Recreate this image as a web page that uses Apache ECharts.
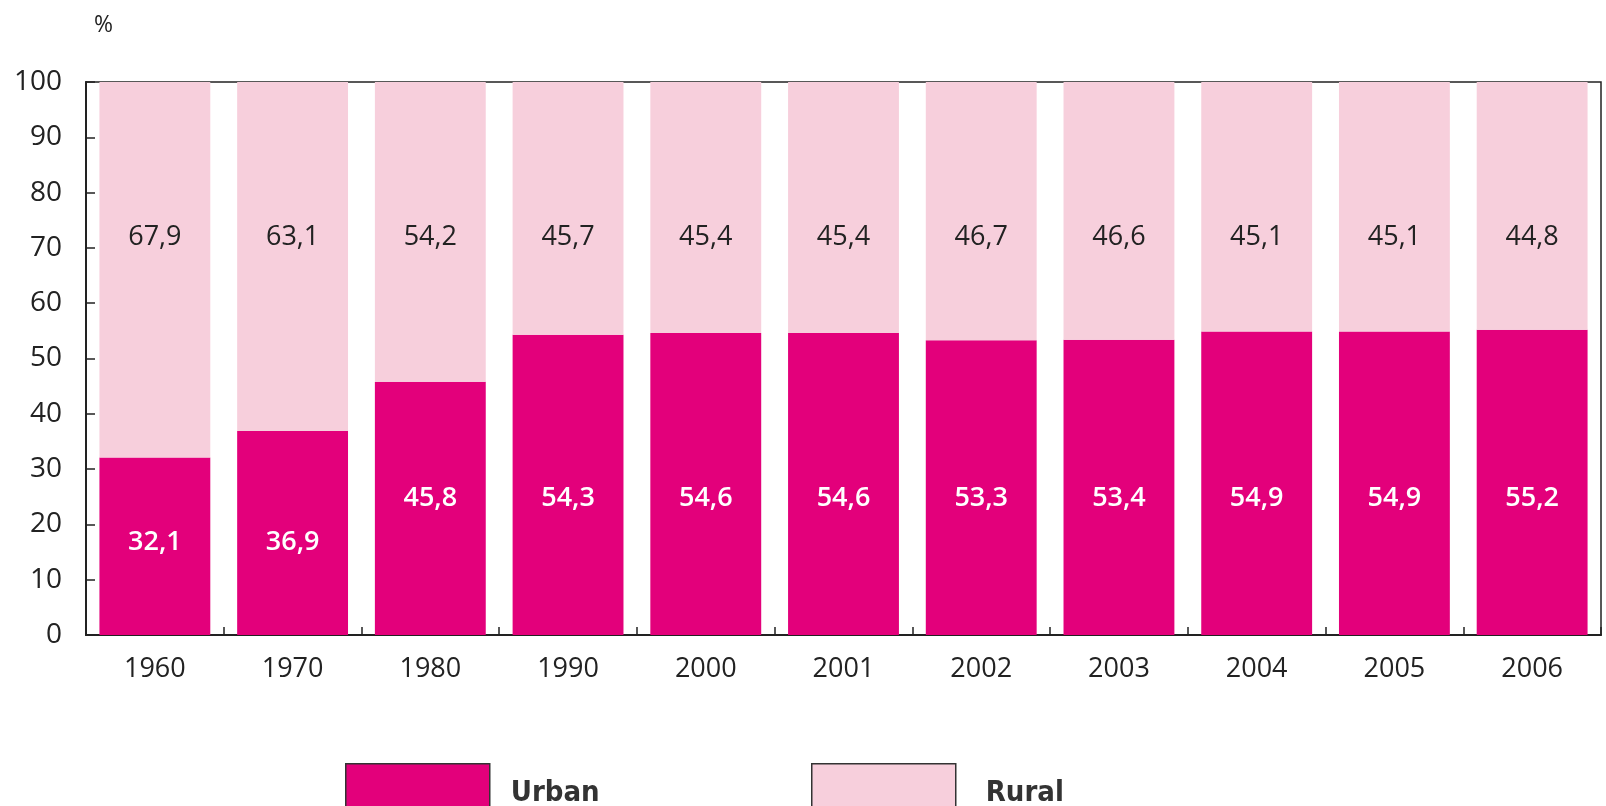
<!DOCTYPE html>
<html>
<head>
<meta charset="utf-8">
<title>Urban and rural population, %</title>
<script src="https://cdn.jsdelivr.net/npm/echarts@6/dist/echarts.min.js"></script>
<style>
  html, body { margin: 0; padding: 0; background: #ffffff; }
  #chart { width: 1606px; height: 806px; }
</style>
</head>
<body>
<div id="chart"></div>
<script>
// Years shown on the category axis
const years = ['1960', '1970', '1980', '1990', '2000', '2001', '2002', '2003', '2004', '2005', '2006'];

// Share of the population, per cent
const urbanShare = [32.1, 36.9, 45.8, 54.3, 54.6, 54.6, 53.3, 53.4, 54.9, 54.9, 55.2];
const ruralShare = [67.9, 63.1, 54.2, 45.7, 45.4, 45.4, 46.7, 46.6, 45.1, 45.1, 44.8];

// Value axis ticks
const yTicks = [0, 10, 20, 30, 40, 50, 60, 70, 80, 90, 100];

const URBAN = '#E3007B';
const RURAL = '#F7CFDC';
const INK = '#222222';
const FONT = '"Open Sans", "Noto Sans", sans-serif';
const LEGEND_FONT = '"DejaVu Sans Condensed", "DejaVu Sans", sans-serif';

const fmt = v => v.toFixed(1).replace('.', ',');

// Urban labels sit on one common row; the two short bars get theirs a little lower
const urbanData = urbanShare.map(v => ({
  value: v,
  label: { distance: v < 40 ? 79 : 123 }
}));

const legendItem = (name, left, gap) => ({
  data: [name], left: left, top: 758,
  itemWidth: 144, itemHeight: 50,
  icon: 'rect',
  itemStyle: { borderColor: '#333', borderWidth: 1.5 },
  formatter: '{t|{name}}',
  textStyle: {
    rich: {
      t: { fontSize: 29, fontWeight: 'bold', color: '#333',
           fontFamily: LEGEND_FONT, padding: [10, 0, 0, gap] }
    }
  }
});

const chart = echarts.init(document.getElementById('chart'));

chart.setOption({
  animation: false,
  backgroundColor: '#ffffff',
  textStyle: { fontFamily: FONT },
  grid: {
    left: 86, right: 5, top: 82, bottom: 171,
    show: true, borderColor: INK, borderWidth: 1.5,
    backgroundColor: 'transparent'
  },
  graphic: [{
    type: 'text', left: 94, top: 14,
    style: { text: '%', fontSize: 23, fontFamily: FONT, fill: INK }
  }],
  legend: [
    legendItem('Urban', 340, 16),
    legendItem('Rural', 806, 25)
  ],
  xAxis: {
    type: 'category',
    data: years,
    axisLine: { show: true, lineStyle: { color: INK, width: 2 } },
    axisTick: { show: true, inside: true, length: 8, interval: 0, lineStyle: { color: INK, width: 1.5 } },
    axisLabel: { color: INK, fontSize: 27, margin: 21, interval: 0 },
    splitLine: { show: false }
  },
  yAxis: {
    type: 'value',
    min: yTicks[0],
    max: yTicks[yTicks.length - 1],
    interval: yTicks[1] - yTicks[0],
    axisLine: { show: true, lineStyle: { color: INK, width: 2 } },
    axisTick: { show: true, inside: true, length: 9, lineStyle: { color: INK, width: 1.5 } },
    axisLabel: { color: INK, fontSize: 28, margin: 24 },
    splitLine: { show: false }
  },
  series: [
    {
      name: 'Urban',
      type: 'bar',
      stack: 'share',
      barWidth: '80.5%',
      itemStyle: { color: URBAN },
      data: urbanData,
      label: {
        show: true,
        position: 'insideBottom',
        color: '#ffffff',
        fontSize: 27,
        fontWeight: 600,
        formatter: p => fmt(p.value)
      }
    },
    {
      name: 'Rural',
      type: 'bar',
      stack: 'share',
      barWidth: '80.5%',
      itemStyle: { color: RURAL },
      data: ruralShare,
      label: {
        show: true,
        position: 'insideTop',
        distance: 142,
        color: INK,
        fontSize: 27,
        formatter: p => fmt(p.value)
      }
    }
  ]
});
</script>
</body>
</html>
